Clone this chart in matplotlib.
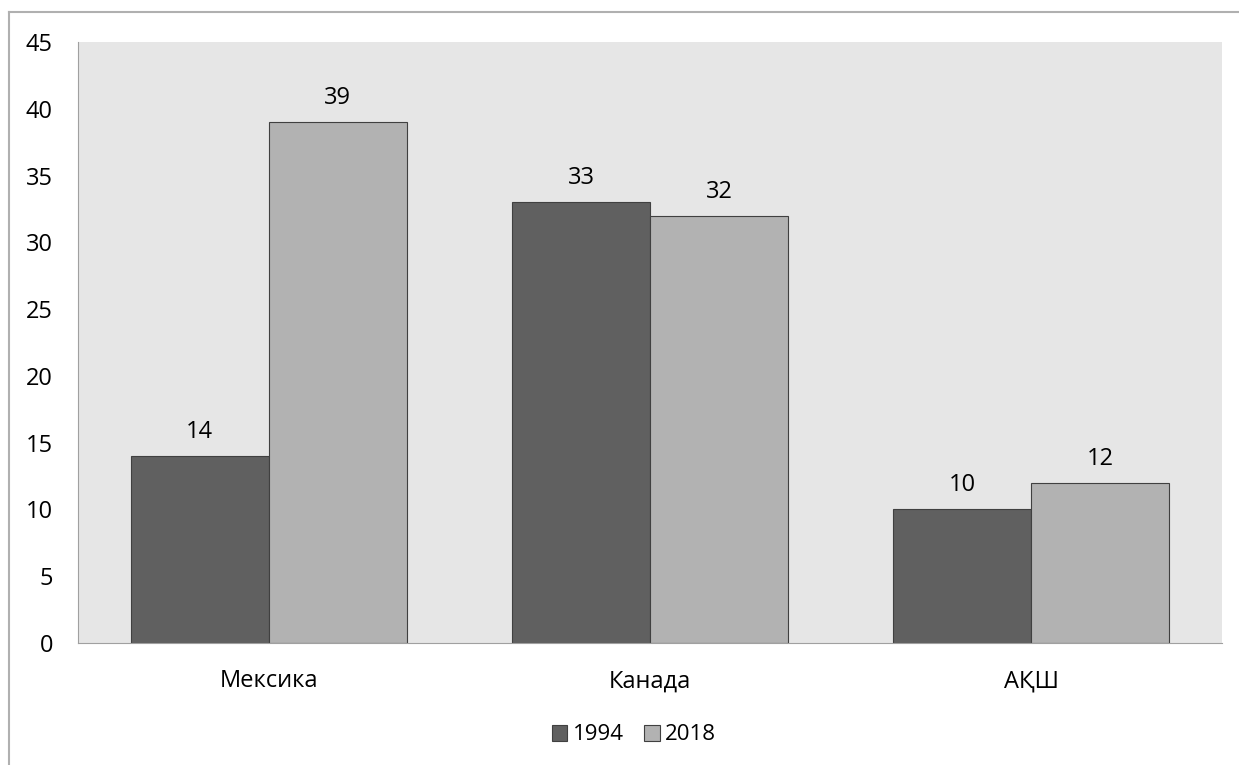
import matplotlib.pyplot as plt
import numpy as np

# data
countries = ["Мексика", "Канада", "АҚШ"]
years = ["1994", "2018"]
values_1994 = [14, 33, 10]
values_2018 = [39, 32, 12]

plt.rcParams['font.family'] = ['Open Sans', 'DejaVu Sans']

fig = plt.figure(figsize=(12.39, 7.65), dpi=100)
ax = fig.add_axes([78 / 1239, 1 - 643 / 765, (1222 - 78) / 1239, (643 - 42) / 765])

# outer frame of the chart (cropped at right/bottom)
fig.add_artist(plt.Line2D([9 / 1239, 9 / 1239], [0, 1 - 12 / 765], color="#B0B0B0", lw=1.5))
fig.add_artist(plt.Line2D([9 / 1239, 1], [1 - 12 / 765, 1 - 12 / 765], color="#B0B0B0", lw=1.5))

x = np.arange(len(countries))
w = 0.362
b1 = ax.bar(x - w / 2, values_1994, w, color="#606060", edgecolor="#404040", lw=0.8, label=years[0])
b2 = ax.bar(x + w / 2, values_2018, w, color="#B2B2B2", edgecolor="#404040", lw=0.8, label=years[1])

for bars in (b1, b2):
    for r in bars:
        ax.annotate(f"{r.get_height():g}", (r.get_x() + r.get_width() / 2, r.get_height()),
                    xytext=(0, 13), textcoords="offset points", ha="center", va="baseline", fontsize=17)

ax.set_facecolor("#E6E6E6")
ax.set_xlim(-0.5, 2.5)
ax.set_ylim(0, 45)
ax.set_yticks(np.arange(0, 46, 5))
ax.set_xticks(x)
ax.set_xticklabels(countries)
ax.tick_params(axis="both", length=0, labelsize=17)
ax.tick_params(axis="y", pad=18)
ax.tick_params(axis="x", pad=19)
for s in ["top", "right"]:
    ax.spines[s].set_visible(False)
ax.spines["left"].set_color("#A0A0A0")
ax.spines["bottom"].set_color("#A0A0A0")

fig.legend(loc="center", bbox_to_anchor=(634 / 1239, 1 - 735 / 765), ncol=2, frameon=False,
           fontsize=16, handlelength=0.7, handleheight=0.7, handletextpad=0.25, columnspacing=0.9)

plt.savefig("out.png", dpi=100)
